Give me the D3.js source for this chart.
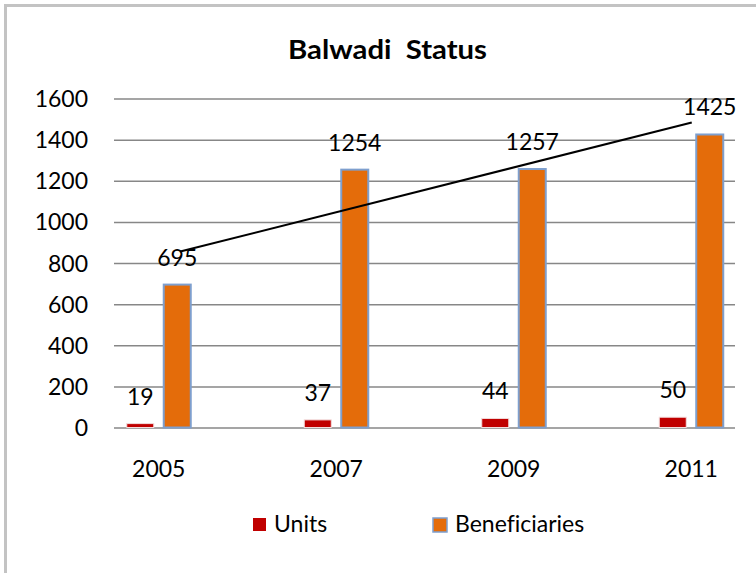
<!DOCTYPE html>
<html>
<head>
<meta charset="utf-8">
<script src="https://cdn.jsdelivr.net/npm/d3@7"></script>
<style>
  body { margin: 0; background: #fff; }
  svg { display: block; font-family: Lato, "Open Sans", sans-serif; font-variant-ligatures: none; }
</style>
</head>
<body>
<div id="chart"></div>
<script>
var years = ['2005', '2007', '2009', '2011'];
var seriesNames = ['Units', 'Beneficiaries'];
var units = [19, 37, 44, 50];
var beneficiaries = [695, 1254, 1257, 1425];
var yTicks = [0, 200, 400, 600, 800, 1000, 1200, 1400, 1600];

var width = 756;
var height = 573;
var fontSize = 23;
var colors = { Units: '#c00000', Beneficiaries: '#e46c0a' };

var svg = d3.select('#chart')
  .append('svg')
  .attr('width', width)
  .attr('height', height);

// Frame of the chart area, only top and left show inside the picture.
svg.append('rect')
  .attr('x', 5.5)
  .attr('y', 5.5)
  .attr('width', width + 20)
  .attr('height', height + 20)
  .attr('fill', 'none')
  .attr('stroke', '#c3c3c3')
  .attr('stroke-width', 3);

svg.append('text')
  .attr('x', 387.5)
  .attr('y', 59)
  .attr('text-anchor', 'middle')
  .attr('font-size', 27)
  .attr('font-weight', 'bold')
  .attr('textLength', 199)
  .attr('lengthAdjust', 'spacingAndGlyphs')
  .style('white-space', 'pre')
  .text('Balwadi  Status');

var y = d3.scaleLinear().domain([0, 1600]).range([427.5, 98.5]);

var x = d3.scaleBand().domain(years).range([70, 780]).paddingInner(0);

var xSub = d3.scaleBand()
  .domain(seriesNames)
  .range([x.bandwidth() / 2 - 32, x.bandwidth() / 2 + 32])
  .paddingInner(0.27)
  .paddingOuter(0);

var gridLeft = 114;
var gridRight = 735;

// Value axis with gridlines
var yAxis = svg.append('g')
  .attr('transform', 'translate(' + gridLeft + ',0)')
  .call(d3.axisLeft(y)
    .tickValues(yTicks)
    .tickFormat(d3.format('d'))
    .tickSize(-(gridRight - gridLeft))
    .tickPadding(26));

yAxis.select('.domain').remove();
yAxis.selectAll('.tick line')
  .attr('stroke', '#878787')
  .attr('stroke-width', 1.5);
yAxis.selectAll('.tick text')
  .attr('font-size', fontSize)
  .attr('font-family', 'Lato, sans-serif')
  .attr('fill', '#000')
  .attr('dy', 8);

var rows = years.map(function (yr, i) {
  return { year: yr, Units: units[i], Beneficiaries: beneficiaries[i] };
});

var groups = svg.selectAll('.year-group')
  .data(rows)
  .enter()
  .append('g')
  .classed('year-group', true)
  .attr('transform', function (d) { return 'translate(' + x(d.year) + ',0)'; });

var bars = groups.selectAll('.bar')
  .data(function (d) {
    return seriesNames.map(function (s) { return { series: s, value: d[s] }; });
  })
  .enter();

bars.append('rect')
  .attr('x', function (d) { return xSub(d.series); })
  .attr('y', function (d) { return y(d.value); })
  .attr('width', xSub.bandwidth())
  .attr('height', function (d) { return y(0) - y(d.value); })
  .attr('fill', function (d) { return colors[d.series]; })
  .attr('stroke', function (d) { return d.series === 'Units' ? '#f2dcdc' : '#7e9fce'; })
  .attr('stroke-width', function (d) { return d.series === 'Units' ? 1 : 2; });

bars.append('text')
  .attr('x', function (d) { return xSub(d.series) + xSub.bandwidth() / 2; })
  .attr('y', function (d) { return y(d.value) - 19; })
  .attr('text-anchor', 'middle')
  .attr('font-size', fontSize)
  .text(function (d) { return d.value; });

// Category labels
svg.append('g')
  .selectAll('text')
  .data(years)
  .enter()
  .append('text')
  .attr('x', function (d) { return x(d) + x.bandwidth() / 2; })
  .attr('y', 477)
  .attr('text-anchor', 'middle')
  .attr('font-size', fontSize)
  .text(function (d) { return d; });

// Stray straight line drawn across the chart, from the first to the last beneficiaries label
var first = beneficiaries[0];
var last = beneficiaries[beneficiaries.length - 1];
svg.append('line')
  .attr('x1', x(years[0]) + xSub('Beneficiaries') + xSub.bandwidth() / 2 + 3)
  .attr('y1', y(first) - 33)
  .attr('x2', x(years[years.length - 1]) + xSub('Beneficiaries') + xSub.bandwidth() / 2 - 18)
  .attr('y2', y(last) - 12)
  .attr('stroke', '#000')
  .attr('stroke-width', 2);

// Legend
var legendItems = [
  { name: seriesNames[0], x: 253, size: 13, stroke: 'none' },
  { name: seriesNames[1], x: 433, size: 14, stroke: '#7e9fce' }
];

var legend = svg.append('g')
  .selectAll('g')
  .data(legendItems)
  .enter()
  .append('g')
  .attr('transform', function (d) { return 'translate(' + d.x + ',518)'; });

legend.append('rect')
  .attr('width', function (d) { return d.size; })
  .attr('height', function (d) { return d.size; })
  .attr('fill', function (d) { return colors[d.name]; })
  .attr('stroke', function (d) { return d.stroke; })
  .attr('stroke-width', 1.5);

legend.append('text')
  .attr('x', function (d) { return d.size + 8; })
  .attr('y', 14)
  .attr('font-size', fontSize)
  .text(function (d) { return d.name; });
</script>
</body>
</html>
